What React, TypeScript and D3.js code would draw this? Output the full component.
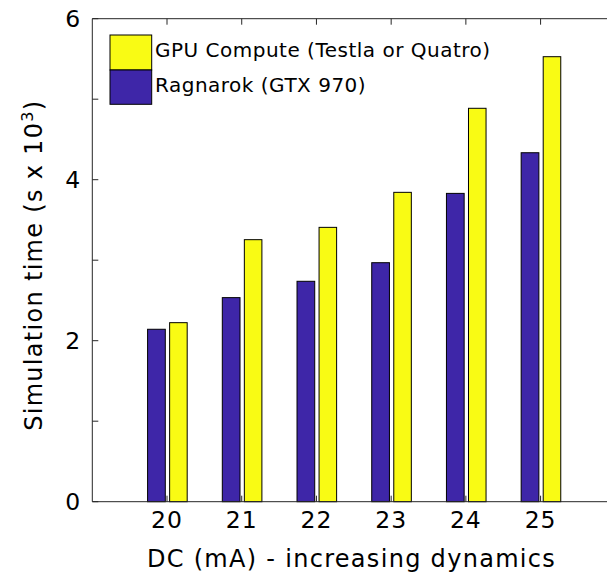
import React from "react";
import * as d3 from "d3";

// DC current settings (mA) and simulation times (s x 10^3)
const categories = [20, 21, 22, 23, 24, 25];
const ragnarokTimes = [2.142, 2.535, 2.738, 2.969, 3.83, 4.335];
const gpuComputeTimes = [2.224, 3.255, 3.408, 3.843, 4.887, 5.528];
const yTicks = [0, 1, 2, 3, 4, 5, 6];
const yTickLabels = ["0", "", "2", "", "4", "", "6"];
const seriesNames = ["GPU Compute (Testla or Quatro)", "Ragnarok (GTX 970)"];

const W = 607;
const H = 575;
const FONT = "'DejaVu Sans', Verdana, sans-serif";
const BLUE = "#3e26a8";
const YELLOW = "#f9fb14";
const AXIS = "#262626";

export default function App() {
  const x = d3.scaleLinear().domain([19, 26]).range([92.3, 615.3]);
  const y = d3.scaleLinear().domain([0, 6]).range([501.7, 18.7]);
  const [x0, x1] = x.range();
  const [yb, yt] = y.range();

  // horizontal extents of the two bars in each group, relative to the category
  const blueSpan: [number, number] = [-0.26, -0.023];
  const yellowSpan: [number, number] = [0.035, 0.27];

  const tickLen = 6;

  return (
    <svg
      width={W}
      height={H}
      style={{ position: "absolute", left: 0, top: 0, background: "#fff" }}
      fontFamily={FONT}
    >
      {/* bars */}
      {categories.map((c, i) => (
        <g key={c}>
          <rect
            x={x(c + blueSpan[0])}
            y={y(ragnarokTimes[i])}
            width={x(c + blueSpan[1]) - x(c + blueSpan[0])}
            height={yb - y(ragnarokTimes[i])}
            fill={BLUE}
            stroke="#000"
            strokeWidth={1}
          />
          <rect
            x={x(c + yellowSpan[0])}
            y={y(gpuComputeTimes[i])}
            width={x(c + yellowSpan[1]) - x(c + yellowSpan[0])}
            height={yb - y(gpuComputeTimes[i])}
            fill={YELLOW}
            stroke="#000"
            strokeWidth={1}
          />
        </g>
      ))}

      {/* axes lines */}
      <line x1={x0} x2={x1} y1={yb} y2={yb} stroke={AXIS} strokeWidth={1} />
      <line x1={x0} x2={x1} y1={yt} y2={yt} stroke={AXIS} strokeWidth={1} />
      <line x1={x0} x2={x0} y1={yt} y2={yb} stroke={AXIS} strokeWidth={1} />

      {/* y ticks */}
      {yTicks.map((t, i) => (
        <g key={t}>
          <line x1={x0} x2={x0 + tickLen} y1={y(t)} y2={y(t)} stroke={AXIS} strokeWidth={1} />
          {yTickLabels[i] && (
            <text x={x0 - 12} y={y(t)} dy="0.36em" textAnchor="end" fontSize={23.5} fill="#000">
              {yTickLabels[i]}
            </text>
          )}
        </g>
      ))}

      {/* x ticks */}
      {categories.map((c) => (
        <g key={c}>
          <line x1={x(c)} x2={x(c)} y1={yb} y2={yb - tickLen} stroke={AXIS} strokeWidth={1} />
          <line x1={x(c)} x2={x(c)} y1={yt} y2={yt + tickLen} stroke={AXIS} strokeWidth={1} />
          <text x={x(c)} y={528} textAnchor="middle" fontSize={23.5} letterSpacing={1} fill="#000">
            {c}
          </text>
        </g>
      ))}

      {/* axis titles */}
      <text
        x={(148 + 555) / 2}
        y={567}
        textAnchor="middle"
        fontSize={24}
        letterSpacing={1.3}
        fill="#000"
      >
        DC (mA) - increasing dynamics
      </text>
      <text
        transform={`translate(42, ${(yt + yb) / 2 + 5}) rotate(-90)`}
        textAnchor="middle"
        fontSize={24}
        letterSpacing={1.3}
        fill="#000"
      >
        Simulation time (s x 10
        <tspan dy={-9} fontSize={16}>3</tspan>
        <tspan dy={9}>)</tspan>
      </text>

      {/* legend */}
      <rect x={110} y={35} width={41.7} height={35} fill={YELLOW} stroke="#000" strokeWidth={1} />
      <rect x={110} y={70} width={41.7} height={34.3} fill={BLUE} stroke="#000" strokeWidth={1} />
      <text x={155} y={56.7} fontSize={20} letterSpacing={0.5} fill="#000">
        {seriesNames[0]}
      </text>
      <text x={155} y={91.7} fontSize={20} letterSpacing={0.5} fill="#000">
        {seriesNames[1]}
      </text>
    </svg>
  );
}
